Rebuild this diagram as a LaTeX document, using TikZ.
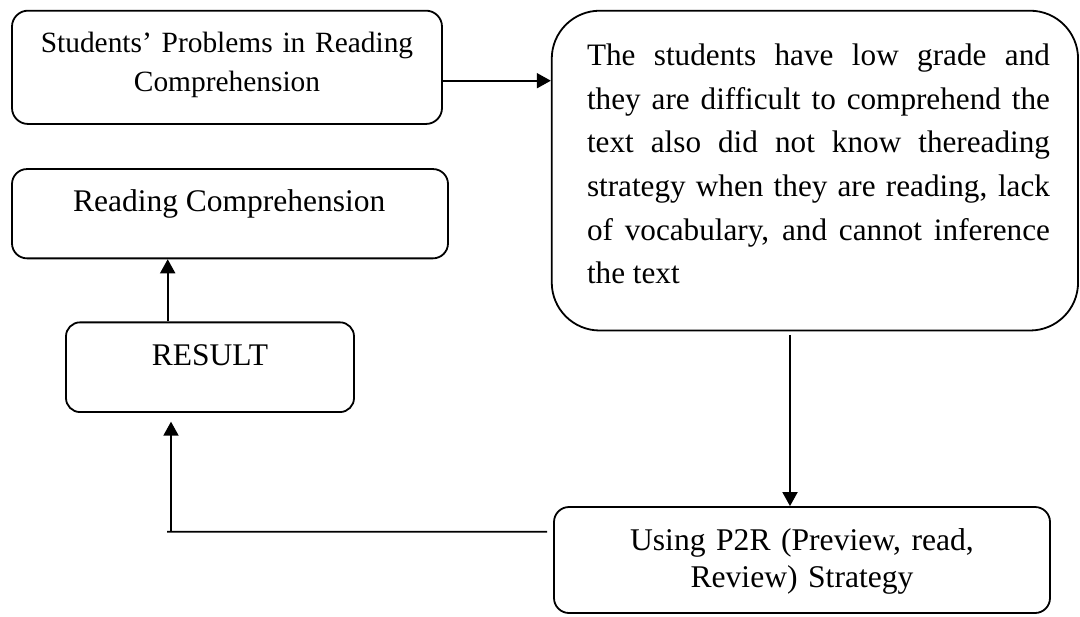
\documentclass[tikz,border=0pt]{standalone}
\usepackage{fontspec}
\setmainfont{Liberation Serif}
\usetikzlibrary{arrows.meta}
\tikzset{
  box/.style={draw, line width=0.9pt, inner sep=0pt},
  lbl/.style={inner sep=0pt, outer sep=0pt},
  arr/.style={line width=0.9pt, -{Triangle[length=7pt,width=7.5pt]}},
  conn/.style={line width=0.9pt}
}
\begin{document}
\begin{tikzpicture}[x=0.5pt,y=-0.5pt]
\useasboundingbox[fill=white] (0,0) rectangle (1080,616);
% boxes
\node[box, rounded corners=8pt, minimum width=215pt, minimum height=56.65pt] (b1) at (227,67.3) {};
\node[box, rounded corners=24pt, minimum width=263.15pt, minimum height=159.9pt] (b2) at (814.9,170.6) {};
\node[box, rounded corners=7.5pt, minimum width=218pt, minimum height=44.65pt] (b3) at (230,213.7) {};
\node[box, rounded corners=7pt, minimum width=144pt, minimum height=44.85pt] (b4) at (210,367.2) {};
\node[box, rounded corners=7.5pt, minimum width=248pt, minimum height=53pt] (b5) at (802,560) {};
% texts
\node[lbl, anchor=base, text width=215pt, align=center, font=\fontsize{14.7pt}{19.5pt}\selectfont] (t1) at (227,52)
  {Students’ Problems in Reading\\Comprehension};
\node[lbl, anchor=base west, text width=231.5pt, align=justify, font=\fontsize{15.6pt}{21.85pt}\selectfont] (t2) at (587,65.4)
  {\hyphenpenalty=10000\tolerance=10000 The students have low grade and\linebreak they are difficult to comprehend the\linebreak text also did not know thereading\linebreak strategy when they are reading, lack\linebreak of vocabulary, and cannot inference\linebreak the text};
\node[lbl, anchor=base, font=\fontsize{15.75pt}{19pt}\selectfont] (t3) at (229.2,211) {Reading Comprehension};
\node[lbl, anchor=base, font=\fontsize{15.75pt}{19pt}\selectfont] (t4) at (210,365) {RESULT};
\node[lbl, anchor=base, text width=248pt, align=center, font=\fontsize{15.8pt}{18.5pt}\selectfont] (t5) at (802,550.7)
  {Using P2R (Preview, read,\\Review) Strategy};
% connectors
\draw[arr] ([yshift=-6.7pt]b1.east) coordinate (s1) -- (s1 -| b2.west);
\draw[arr] ([xshift=-12.45pt,yshift=-1.75pt]b2.south) coordinate (s2) -- (s2 |- b5.north);
\coordinate (k) at (171,531.7);
\draw[conn] ([xshift=-3pt,yshift=14.15pt]b5.west) -- ([xshift=-2pt]k);
\draw[arr] (k) -- ([yshift=-4.35pt]k |- b4.south);
\draw[arr] ([xshift=-21.15pt]b4.north) coordinate (s3) -- (s3 |- b3.south);
\end{tikzpicture}
\end{document}
